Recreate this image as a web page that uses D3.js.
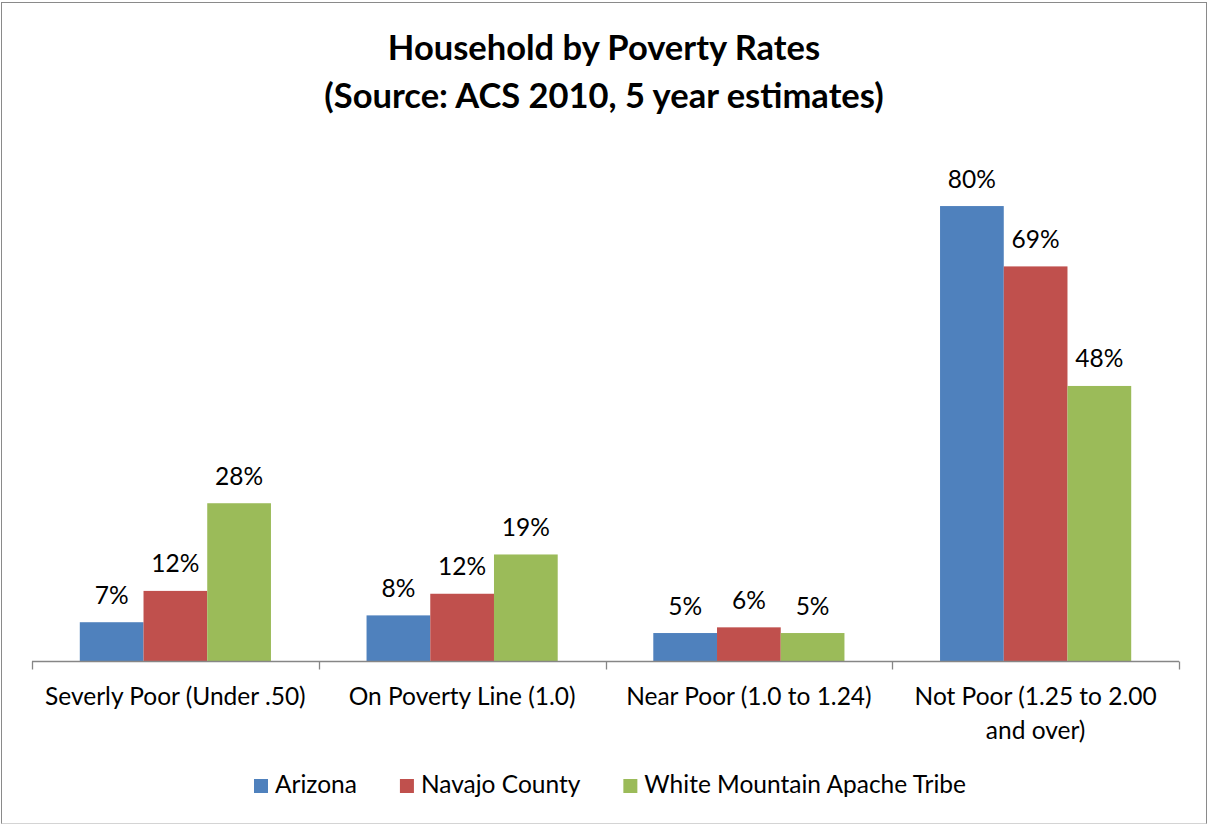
<!DOCTYPE html>
<html>
<head>
<meta charset="utf-8">
<script src="https://cdn.jsdelivr.net/npm/d3@7"></script>
<style>
  html, body { margin: 0; padding: 0; background: #fff; }
  svg { display: block; }
  text { font-family: Lato, "Open Sans", "DejaVu Sans", sans-serif; fill: #000; }
</style>
</head>
<body>
<svg id="chart" width="1208" height="825"></svg>
<script>
const titleLines = ["Household by Poverty Rates", "(Source: ACS 2010, 5 year estimates)"];
const categories = ["Severly Poor (Under .50)", "On Poverty Line (1.0)", "Near Poor (1.0 to 1.24)", "Not Poor (1.25 to 2.00 and over)"];
const seriesNames = ["Arizona", "Navajo County", "White Mountain Apache Tribe"];
const arizona = [0.069, 0.081, 0.050, 0.800];
const navajo = [0.124, 0.119, 0.060, 0.694];
const whiteMountain = [0.278, 0.188, 0.050, 0.484];
const colors = ["#4F81BD", "#C0504D", "#9BBB59"];

const seriesValues = [arizona, navajo, whiteMountain];
const svg = d3.select("#chart");

// outer border
svg.append("rect").attr("x", 1.5).attr("y", 2.5).attr("width", 1205).attr("height", 821)
  .attr("fill", "#fff").attr("stroke", "#8a8a8a").attr("stroke-width", 1);
svg.append("line").attr("x1", 1.5).attr("x2", 1206.5).attr("y1", 823.5).attr("y2", 823.5)
  .attr("stroke", "#d4d4d4");

// title
const title = svg.append("text").attr("text-anchor", "middle")
  .style("font-weight", "bold").style("font-size", "34.5px");
titleLines.forEach((t, i) => {
  title.append("tspan").attr("x", 604).attr("y", 60 + i * 48).text(t);
});

const plotLeft = 32, plotRight = 1179, baseY = 661.5;
const x0 = d3.scaleBand().domain(categories).range([plotLeft, plotRight]).paddingInner(0).paddingOuter(0);
const x1 = d3.scaleBand().domain(seriesNames).range([0, x0.bandwidth()]).paddingInner(0).paddingOuter(0.75);
const y = d3.scaleLinear().domain([0, 0.9]).range([baseY, baseY - 0.9 * 569.3]);
const fmt = d3.format(".0%");

const data = [];
categories.forEach((c, ci) => {
  seriesNames.forEach((s, si) => {
    data.push({ cat: c, series: s, value: seriesValues[si][ci], color: colors[si] });
  });
});

const g = svg.append("g");
g.selectAll("rect.bar").data(data).join("rect").attr("class", "bar")
  .attr("x", d => x0(d.cat) + x1(d.series))
  .attr("width", x1.bandwidth())
  .attr("y", d => y(d.value))
  .attr("height", d => y(0) - y(d.value))
  .attr("fill", d => d.color);

g.selectAll("text.lbl").data(data).join("text").attr("class", "lbl")
  .attr("text-anchor", "middle")
  .style("font-size", "24.5px")
  .attr("x", d => x0(d.cat) + x1(d.series) + x1.bandwidth() / 2)
  .attr("y", d => y(d.value) - 18.5)
  .text(d => fmt(d.value));

// axis line and boundary ticks
const axis = svg.append("g").attr("stroke", "#868686").attr("stroke-width", 1.3);
axis.append("line").attr("x1", plotLeft).attr("x2", plotRight).attr("y1", baseY).attr("y2", baseY);
const tickXs = categories.map(c => x0(c)).concat([x0.range()[1]]);
axis.selectAll("line.tick").data(tickXs).join("line").attr("class", "tick")
  .attr("x1", d => Math.round(d) + 0.5).attr("x2", d => Math.round(d) + 0.5)
  .attr("y1", baseY).attr("y2", baseY + 8);

// category labels with wrapping
const catG = svg.append("g");
categories.forEach(c => {
  const t = catG.append("text").attr("text-anchor", "middle").style("font-size", "24.5px");
  const cx = x0(c) + x0.bandwidth() / 2;
  const words = c.split(" ");
  let line = [], lines = [];
  const probe = t.append("tspan").attr("x", cx);
  words.forEach(w => {
    line.push(w);
    probe.text(line.join(" "));
    if (probe.node().getComputedTextLength() > 276 && line.length > 1) {
      line.pop();
      lines.push(line.join(" "));
      line = [w];
    }
  });
  lines.push(line.join(" "));
  probe.remove();
  lines.forEach((l, i) => {
    t.append("tspan").attr("x", cx).attr("y", 705 + i * 33.5).text(l);
  });
});

// legend
const legend = svg.append("g");
let lx = 0;
seriesNames.forEach((s, i) => {
  const it = legend.append("g");
  it.append("rect").attr("x", lx).attr("y", 779).attr("width", 14).attr("height", 14).attr("fill", colors[i]);
  const tx = it.append("text").attr("x", lx + 21).attr("y", 793).style("font-size", "24.5px").text(s);
  const tw = tx.node().getComputedTextLength();
  lx += 21 + tw + 43;
});
legend.attr("transform", `translate(${254},0)`);
</script>
</body>
</html>
